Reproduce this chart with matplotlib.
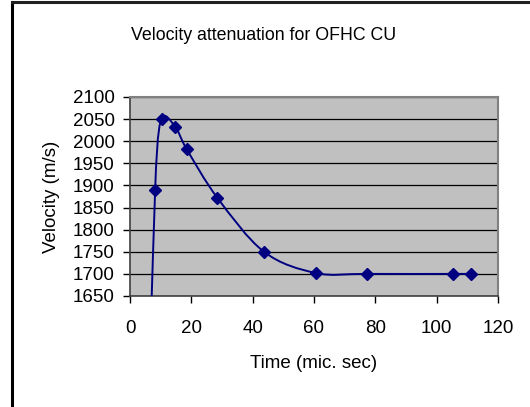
import numpy as np
import matplotlib
matplotlib.use("Agg")
from matplotlib import pyplot
from matplotlib.path import Path
from matplotlib.patches import PathPatch
from matplotlib.lines import Line2D

# time (mic. sec) and velocity (m/s)
time_us = [0.0, 8.2, 10.3, 14.7, 18.5, 28.5, 43.7, 60.6, 77.2, 105.4, 111.2]
velocity = [0, 1890, 2050, 2033, 1982, 1872, 1750, 1702, 1700, 1700, 1700]

x_ticks = [0, 20, 40, 60, 80, 100, 120]
y_ticks = [1650, 1700, 1750, 1800, 1850, 1900, 1950, 2000, 2050, 2100]

NAVY = '#000080'
W, H = 530, 407

pyplot.rcParams['font.family'] = ['Liberation Sans', 'DejaVu Sans']


def smooth_path(ax, xs, ys):
    # Excel-style smoothed line: bezier segments built in screen space
    pts = ax.transData.transform(np.column_stack([xs, ys]))
    n = len(pts)
    verts = [pts[0]]
    codes = [Path.MOVETO]
    for i in range(n - 1):
        p0 = pts[i - 1] if i > 0 else pts[i]
        p1, p2 = pts[i], pts[i + 1]
        p3 = pts[i + 2] if i + 2 < n else pts[i + 1]
        d1 = (p2 - p0) / 6.0
        d2 = (p3 - p1) / 6.0
        seg = np.hypot(*(p2 - p1))
        tot = np.hypot(*d1) + np.hypot(*d2)
        if tot > seg and tot > 0:
            d1 = d1 * seg / tot
            d2 = d2 * seg / tot
        verts += [p1 + d1, p2 - d2, p2]
        codes += [Path.CURVE4] * 3
    inv = ax.transData.inverted()
    return Path(inv.transform(np.array(verts)), codes)


fig = pyplot.figure(figsize=(W / 100, H / 100), dpi=100)
ax_l, ax_b, ax_w, ax_h = 130, 111, 368, 199
ax = fig.add_axes([ax_l / W, ax_b / H, ax_w / W, ax_h / H])
ax.set_facecolor('#C0C0C0')
ax.set_xlim(0, 120)
ax.set_ylim(1650, 2100)
ax.set_xticks(x_ticks)
ax.set_yticks(y_ticks)
ax.tick_params(direction='out', length=5, width=1, color='black', labelsize=13.5)
ax.tick_params(axis='y', pad=6)
ax.tick_params(axis='x', pad=12)
ax.yaxis.grid(True, color='black', linewidth=0.9)
ax.set_axisbelow(True)
for side in ['top', 'right']:
    ax.spines[side].set_color('#808080')
    ax.spines[side].set_linewidth(1.5)
for side in ['left', 'bottom']:
    ax.spines[side].set_color('#404040')
    ax.spines[side].set_linewidth(1.2)

ax.set_xlabel('Time (mic. sec)', fontsize=13.5, va='center')
ax.set_ylabel('Velocity (m/s)', fontsize=13.5, va='center')
# label centres in pixels, converted to axes coords
ax.xaxis.set_label_coords((314 - ax_l) / ax_w, ((H - 363) - ax_b) / ax_h)
ax.yaxis.set_label_coords((51 - ax_l) / ax_w, ((H - 197) - ax_b) / ax_h)

fig.canvas.draw()
path = smooth_path(ax, time_us, velocity)
ax.add_patch(PathPatch(path, facecolor='none', edgecolor=NAVY, linewidth=1.4, zorder=3))
ax.plot(time_us, velocity, linestyle='none', marker='D', markersize=6,
        color=NAVY, zorder=4)

fig.text(264 / W, 1 - 35 / H, 'Velocity attenuation for OFHC CU',
         ha='center', va='center', fontsize=12.8)

# chart area border (only top and left visible in the crop)
fig.add_artist(Line2D([12 / W, 12 / W], [0, 1 - 2 / H], color='black', linewidth=2.2,
                      transform=fig.transFigure))
fig.add_artist(Line2D([12 / W, 1], [1 - 2 / H, 1 - 2 / H], color='#202020', linewidth=2.2,
                      transform=fig.transFigure))

pyplot.savefig('out.png', dpi=100)
